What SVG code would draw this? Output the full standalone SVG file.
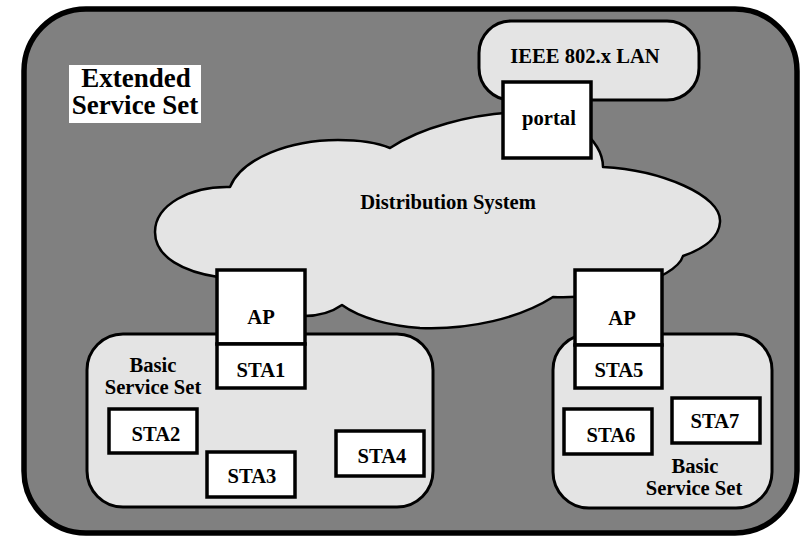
<svg xmlns="http://www.w3.org/2000/svg" width="805" height="542" viewBox="0 0 805 542">
  <style>
    text { font-family: "Liberation Serif", "DejaVu Serif", serif; font-weight: 700; font-size: 20.6px; fill: #000; text-anchor: middle; }
    .ess { font-size: 27px; }
    .area { fill: #e4e4e4; stroke: #000; stroke-width: 3; }
    .box { fill: #fff; stroke: #000; stroke-width: 3.5; }
    .cloud { fill: #e4e4e4; stroke: #000; stroke-width: 2.5; stroke-linejoin: round; }
  </style>

  <!-- white page -->
  <rect x="0" y="0" width="805" height="542" fill="#fff"/>

  <!-- Extended Service Set boundary -->
  <g id="ess">
    <rect x="24" y="9" width="773" height="524" rx="62" ry="62" fill="#808080" stroke="#000" stroke-width="5.5"/>
    <rect x="69" y="65" width="132" height="58" fill="#fff"/>
    <text class="ess" x="136" y="87">Extended</text>
    <text class="ess" x="135" y="114">Service Set</text>
  </g>

  <!-- wired LAN -->
  <g id="lan">
    <rect class="area" x="479" y="21" width="220" height="79" rx="32" ry="32"/>
    <text x="585" y="63">IEEE 802.x LAN</text>
  </g>

  <!-- distribution system cloud -->
  <g id="distribution-system">
    <path class="cloud" d="M 230 187
      C 242 158, 290 140, 338 140
      C 360 140, 378 143, 390 148
      C 420 128, 470 114, 520 112
      C 570 112, 603 140, 603 167
      C 660 170, 722 195, 720 222
      C 719 240, 700 250, 683 256
      C 676 280, 600 300, 553 297
      C 520 318, 470 330, 420 328
      C 390 326, 360 318, 342 305
      C 332 312, 318 316, 304 316
      L 218 277
      C 185 272, 155 258, 155 232
      C 155 205, 190 186, 230 187 Z"/>
    <text x="448" y="209">Distribution System</text>
  </g>

  <!-- portal -->
  <g id="portal">
    <rect class="box" x="503" y="82" width="88" height="76"/>
    <text x="549" y="125">portal</text>
  </g>

  <!-- left basic service set -->
  <g id="bss-left">
    <rect class="area" x="87" y="334" width="346" height="173" rx="36" ry="36"/>
    <text x="153" y="372">Basic</text>
    <text x="153" y="394">Service Set</text>
  </g>

  <!-- right basic service set -->
  <g id="bss-right">
    <rect class="area" x="553" y="334" width="219" height="174" rx="36" ry="36"/>
    <text x="695" y="473">Basic</text>
    <text x="694" y="495">Service Set</text>
  </g>

  <!-- access points with their stations -->
  <g id="ap-left">
    <rect class="box" x="217" y="270" width="88" height="74"/>
    <text x="261" y="324">AP</text>
  </g>
  <g id="sta1">
    <rect class="box" x="217" y="344" width="88" height="44"/>
    <text x="261" y="377">STA1</text>
  </g>
  <g id="ap-right">
    <rect class="box" x="575" y="270" width="87" height="75"/>
    <text x="622" y="325">AP</text>
  </g>
  <g id="sta5">
    <rect class="box" x="575" y="345" width="87" height="43"/>
    <text x="619" y="377">STA5</text>
  </g>

  <!-- stations -->
  <g id="sta2">
    <rect class="box" x="109" y="409" width="88" height="44"/>
    <text x="156" y="441">STA2</text>
  </g>
  <g id="sta3">
    <rect class="box" x="207" y="452" width="88" height="45"/>
    <text x="252" y="483">STA3</text>
  </g>
  <g id="sta4">
    <rect class="box" x="336" y="431" width="88" height="45"/>
    <text x="382" y="463">STA4</text>
  </g>
  <g id="sta6">
    <rect class="box" x="564" y="409" width="88" height="45"/>
    <text x="611" y="442">STA6</text>
  </g>
  <g id="sta7">
    <rect class="box" x="672" y="398" width="88" height="45"/>
    <text x="715" y="428">STA7</text>
  </g>

  <!-- no connectors: links are shown by overlapping boxes -->
  <g id="connectors"/>
</svg>
